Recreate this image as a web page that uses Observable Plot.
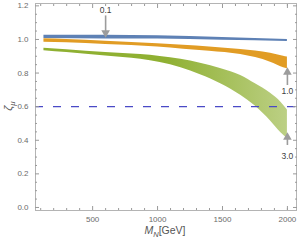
<!DOCTYPE html>
<html><head><meta charset="utf-8">
<script src="https://cdn.jsdelivr.net/npm/d3@7"></script>
<script src="https://cdn.jsdelivr.net/npm/@observablehq/plot@0.6"></script>
<style>body{margin:0;background:#fff} svg{display:block}</style>
</head><body><div id="chart"></div>
<script>
// Band boundaries (M_N in GeV, zeta_mu lower/upper)
const blueM  = [125, 600, 1000, 1500, 2000];
const blueHi = [1.025, 1.025, 1.022, 1.012, 1.0];
const blueLo = [1.005, 1.003, 1.002, 0.995, 0.988];

const orangeM  = [125, 300, 600, 1000, 1200, 1400, 1640, 1870, 1970, 2000];
const orangeHi = [1.004, 1.0, 0.99, 0.974, 0.965, 0.955, 0.94, 0.918, 0.9, 0.895];
const orangeLo = [0.984, 0.98, 0.97, 0.955, 0.942, 0.93, 0.91, 0.865, 0.832, 0.825];

const greenM  = [125, 300, 600, 870, 1020, 1180, 1330, 1490, 1640, 1750, 1870, 1950, 2000];
const greenHi = [0.948, 0.938, 0.922, 0.91, 0.899, 0.882, 0.859, 0.826, 0.786, 0.738, 0.68, 0.627, 0.58];
const greenLo = [0.933, 0.922, 0.902, 0.882, 0.863, 0.832, 0.79, 0.735, 0.668, 0.605, 0.515, 0.445, 0.41];

const refLine = [0.6];

const arrowLabels = ["0.1", "1.0", "3.0"];
const arrowX      = [600, 2000, 2000];
const arrowTail   = [1.14, 0.726, 0.369];
const arrowTip    = [1.04, 0.805, 0.418];
const labelY      = [1.173, 0.692, 0.304];

const xMajor = [500, 1000, 1500, 2000];
const xMinor = [100,200,300,400,600,700,800,900,1100,1200,1300,1400,1600,1700,1800,1900,2000];
const yMajor = [0, 0.2, 0.4, 0.6, 0.8, 1.0, 1.2];
const yMinor = [0.05,0.1,0.15,0.25,0.3,0.35,0.45,0.5,0.55,0.65,0.7,0.75,0.85,0.9,0.95,1.05,1.1,1.15];

const band = (M, lo, hi) => M.map((m, i) => ({M: m, lo: lo[i], hi: hi[i]}));
const blue = band(blueM, blueLo, blueHi);
const orange = band(orangeM, orangeLo, orangeHi);
const green = band(greenM, greenLo, greenHi);
const arrows = arrowLabels.map((l, i) => ({label: l, x: arrowX[i], y1: arrowTail[i], y2: arrowTip[i], ly: labelY[i], up: arrowTip[i] > arrowTail[i]}));

const tickCol = "#9a9a9a";
const labCol = "#6b6b6b";

const plot = Plot.plot({
  width: 297, height: 242,
  marginLeft: 35, marginRight: 1, marginTop: 3, marginBottom: 32,
  style: {fontFamily: "Liberation Sans, Arial, sans-serif", fontSize: "8px", background: "#fff"},
  x: {domain: [60, 2070]},
  y: {domain: [-0.018, 1.214]},
  marks: [
    Plot.areaY(blue, {x: "M", y1: "lo", y2: "hi", fill: "#5E81B5", curve: "monotone-x"}),
    Plot.areaY(orange, {x: "M", y1: "lo", y2: "hi", fill: "#E19C24", curve: "monotone-x"}),
    Plot.areaY(green, {x: "M", y1: "lo", y2: "hi", fill: "url(#greenGrad)", curve: "monotone-x"}),
    Plot.ruleY(refLine, {stroke: "#4a4ac6", strokeWidth: 1.2, strokeDasharray: "8,10"}),
    Plot.ruleX(arrows, {x: "x", y1: "y1", y2: "y2", stroke: "#9c9c9c", strokeWidth: 1.6}),
    Plot.dot(arrows, {x: "x", y: "y2", symbol: "triangle", r: 3.2, fill: "#9c9c9c", stroke: null, rotate: d => d.up ? 0 : 180}),
    Plot.text(arrows, {x: "x", y: "ly", text: "label", fill: "#404040", fontSize: 8.5}),
    Plot.frame({stroke: "#b4b4b4"}),
    // ticks (inward), all four sides
    Plot.axisX(xMajor, {anchor: "bottom", tickSize: -4, tickFormat: () => "", stroke: tickCol}),
    Plot.axisX(xMinor, {anchor: "bottom", tickSize: -2, tickFormat: () => "", stroke: tickCol}),
    Plot.axisX(xMajor, {anchor: "top", tickSize: -4, tickFormat: () => "", stroke: tickCol}),
    Plot.axisX(xMinor, {anchor: "top", tickSize: -2, tickFormat: () => "", stroke: tickCol}),
    Plot.axisY(yMajor, {anchor: "left", tickSize: -4, tickFormat: () => "", stroke: tickCol}),
    Plot.axisY(yMinor, {anchor: "left", tickSize: -2, tickFormat: () => "", stroke: tickCol}),
    Plot.axisY(yMajor, {anchor: "right", tickSize: -4, tickFormat: () => "", stroke: tickCol}),
    Plot.axisY(yMinor, {anchor: "right", tickSize: -2, tickFormat: () => "", stroke: tickCol}),
    // labels
    Plot.axisX(xMajor, {anchor: "bottom", tickSize: 0, tickPadding: 6, tickFormat: d3.format("d"), fill: labCol, label: null}),
    Plot.axisY(yMajor, {anchor: "left", tickSize: 0, tickPadding: 7, tickFormat: d3.format(".1f"), fill: labCol, label: null})
  ]
});

const svg = d3.select(plot);
const defs = svg.insert("defs", ":first-child");
const g = defs.append("linearGradient").attr("id", "greenGrad").attr("x1", 0).attr("x2", 1).attr("y1", 0).attr("y2", 0);
g.append("stop").attr("offset", 0).attr("stop-color", "#8FB032").attr("stop-opacity", 1);
g.append("stop").attr("offset", 0.5).attr("stop-color", "#8FB032").attr("stop-opacity", 1);
g.append("stop").attr("offset", 1).attr("stop-color", "#8FB032").attr("stop-opacity", 0.6);

// axis titles with italic symbols and subscripts
const xt = svg.append("text").attr("x", 165).attr("y", 234).attr("text-anchor", "middle")
  .attr("fill", "#555").attr("font-size", 10.5).attr("font-family", "Liberation Sans, Arial, sans-serif");
xt.append("tspan").attr("font-style", "italic").text("M");
xt.append("tspan").attr("font-style", "italic").attr("font-size", 7.5).attr("dy", 2.5).text("N");
xt.append("tspan").attr("dy", -2.5).text("[GeV]");

const yt = svg.append("text").attr("transform", "translate(12,106) rotate(-90)").attr("text-anchor", "middle")
  .attr("fill", "#555").attr("font-size", 11).attr("font-family", "Liberation Sans, Arial, sans-serif");
yt.append("tspan").attr("font-style", "italic").text("ζ");
yt.append("tspan").attr("font-style", "italic").attr("font-size", 8).attr("dy", 2.5).text("μ");

document.getElementById("chart").appendChild(plot);
</script>
</body></html>
